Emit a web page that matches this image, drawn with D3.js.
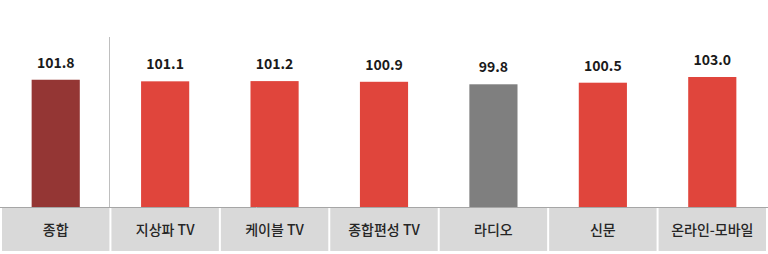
<!DOCTYPE html>
<html>
<head>
<meta charset="utf-8">
<script src="https://cdn.jsdelivr.net/npm/d3@7"></script>
<style>
  body { margin: 0; background: #fff; }
  svg { display: block; }
</style>
</head>
<body>
<div id="chart"></div>
<script>
var categories = ["종합", "지상파 TV", "케이블 TV", "종합편성 TV", "라디오", "신문", "온라인-모바일"];
var values = [101.8, 101.1, 101.2, 100.9, 99.8, 100.5, 103.0];
var barColors = ["#943634", "#e0453c", "#e0453c", "#e0453c", "#7f7f7f", "#e0453c", "#e0453c"];

var width = 768,
    height = 254,
    baseY = 207,
    boxTop = 208,
    boxBottom = 251;

var svg = d3.select("#chart")
    .append("svg")
    .attr("width", width)
    .attr("height", height);

var xScale = d3.scaleBand()
    .domain(categories)
    .range([1, 767])
    .paddingInner(0);

var yScale = d3.scaleLinear()
    .domain([46, 103])
    .range([baseY, 77]);

var barW = xScale.bandwidth() * 0.44;

// label boxes under each bar
svg.append("g")
    .selectAll("rect")
    .data(categories)
    .enter().append("rect")
    .attr("x", function(d) { return xScale(d) + 1; })
    .attr("y", boxTop)
    .attr("width", xScale.bandwidth() - 2)
    .attr("height", boxBottom - boxTop)
    .attr("fill", "#d9d9d9");

svg.append("g")
    .selectAll("text")
    .data(categories)
    .enter().append("text")
    .attr("x", function(d) { return xScale(d) + xScale.bandwidth() / 2; })
    .attr("y", 235)
    .attr("text-anchor", "middle")
    .attr("font-family", "'Noto Sans CJK KR', 'Noto Sans', sans-serif")
    .attr("font-size", 14)
    .attr("font-weight", 500)
    .attr("fill", "#262626")
    .text(function(d) { return d; });

// bars
svg.append("g")
    .selectAll(".bar")
    .data(values)
    .enter().append("rect")
    .attr("class", "bar")
    .attr("x", function(d, i) { return xScale(categories[i]) + (xScale.bandwidth() - barW) / 2; })
    .attr("y", function(d) { return yScale(d); })
    .attr("width", barW)
    .attr("height", function(d) { return baseY - yScale(d); })
    .attr("fill", function(d, i) { return barColors[i]; });

// value labels
svg.append("g")
    .selectAll("text")
    .data(values)
    .enter().append("text")
    .attr("x", function(d, i) { return xScale(categories[i]) + xScale.bandwidth() / 2; })
    .attr("y", function(d) { return yScale(d) - 12; })
    .attr("text-anchor", "middle")
    .attr("font-family", "'Noto Sans CJK KR', 'Noto Sans', sans-serif")
    .attr("font-size", 14)
    .attr("font-weight", 700)
    .attr("fill", "#1a1a1a")
    .text(function(d) { return d.toFixed(1); });

// base line
svg.append("line")
    .attr("x1", 0).attr("x2", width)
    .attr("y1", baseY + 0.5).attr("y2", baseY + 0.5)
    .attr("stroke", "#a6a6a6");

// separator after 종합
var sepX = Math.round(xScale(categories[1])) - 0.5;
svg.append("line")
    .attr("x1", sepX).attr("x2", sepX)
    .attr("y1", 37).attr("y2", baseY)
    .attr("stroke", "#bfbfbf");
</script>
</body>
</html>
